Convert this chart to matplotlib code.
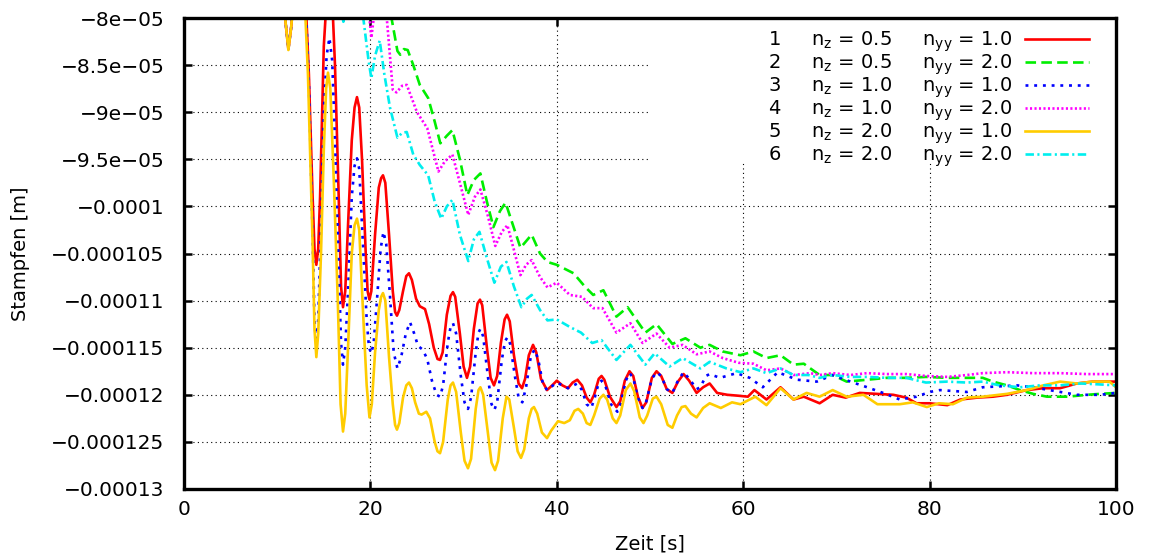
import matplotlib
matplotlib.use("Agg")
import matplotlib.pyplot as plt
from matplotlib.patches import Rectangle
from matplotlib.ticker import FuncFormatter, MultipleLocator

SCALE = 1e-5  # values below are in units of 1e-5 m

T1 = [10.5, 10.9, 11.2, 11.5, 11.9, 12.4, 13.0, 13.4, 13.8, 14.0, 14.2, 14.4, 14.6, 15.0, 15.3, 15.6, 15.9,
      16.2, 16.6, 16.85, 17.06, 17.3, 17.6, 18.0, 18.3, 18.56, 18.8, 19.1, 19.5, 19.7, 19.9, 20.1, 20.5,
      20.9, 21.15, 21.35, 21.6, 22.0, 22.4, 22.65, 22.85, 23.1, 23.5, 23.85, 24.14, 24.45, 24.9, 25.3, 25.86,
      26.3, 26.8, 27.2, 27.47, 27.75, 28.2, 28.6, 28.86, 29.1, 29.6, 30.0, 30.36, 30.7, 31.1, 31.5, 31.76,
      32.0, 32.5, 32.9, 33.26, 33.6, 34.0, 34.4, 34.66, 34.95, 35.4, 35.9, 36.27, 36.6, 37.0, 37.45, 37.8,
      38.3, 38.95, 39.5, 40.0, 40.6, 41.2, 41.7, 42.2, 42.7, 43.2, 43.6, 44.0, 44.5, 44.8, 45.1, 45.7,
      46.4, 46.8, 47.3, 47.8, 48.2, 48.7, 49.2, 49.6, 50.2, 50.7, 51.2, 51.8, 52.4, 53.0, 53.6, 54.2,
      55.0, 55.7, 56.4, 57.2, 58.3, 59.5, 60.5, 61.2, 62.5, 64.0, 65.4, 66.5, 68.2, 69.6, 71.0, 72.5,
      74.4, 76.1, 77.5, 78.6, 80.0, 81.9, 83.3, 85.1, 86.8, 88.3, 90.4, 92.2, 94.0, 95.8, 97.5, 100.0]
V1 = [-7.5, -8.05, -8.33, -8.1, -7.6, -7.4, -7.7, -8.6, -9.9, -10.45, -10.62, -10.45, -9.9, -8.3, -7.8, -7.6, -7.8,
      -8.5, -9.9, -10.85, -11.07, -10.9, -10.2, -9.3, -8.95, -8.84, -8.95, -9.5, -10.5, -10.9, -10.99, -10.9, -10.3,
      -9.8, -9.7, -9.67, -9.75, -10.3, -10.9, -11.12, -11.16, -11.1, -10.9, -10.74, -10.71, -10.78, -10.98, -11.06, -11.09,
      -11.25, -11.5, -11.62, -11.63, -11.55, -11.15, -10.95, -10.91, -10.96, -11.35, -11.7, -11.82, -11.7, -11.3, -11.03, -10.99,
      -11.05, -11.5, -11.82, -11.9, -11.8, -11.45, -11.2, -11.15, -11.22, -11.58, -11.88, -11.93, -11.83, -11.58, -11.47, -11.55,
      -11.83, -11.95, -11.9, -11.85, -11.9, -11.93, -11.87, -11.84, -11.9, -12.03, -12.08, -12.0, -11.83, -11.80, -11.84, -12.02,
      -12.13, -12.07, -11.85, -11.75, -11.8, -12.02, -12.14, -12.08, -11.82, -11.75, -11.8, -11.94, -11.98, -11.86, -11.78, -11.85,
      -11.98, -11.92, -11.88, -11.98, -12.0, -12.01, -12.02, -11.95, -12.05, -11.92, -12.05, -12.02, -12.09, -12.0, -12.03, -11.98,
      -11.99, -12.0, -12.03, -12.09, -12.09, -12.11, -12.05, -12.03, -12.02, -12.0, -11.95, -11.93, -11.93, -11.88, -11.86, -11.86]

T2 = [20.5, 21.8, 22.3, 22.9, 23.2, 23.6, 24.0, 24.6, 25.3, 26.2, 26.9, 27.5, 28.2, 28.8, 29.6, 30.4, 31.1,
      31.8, 32.5, 33.2, 33.9, 34.5, 35.3, 36.1, 36.7, 37.3, 38.2, 39.0, 40.0, 41.8, 43.0, 43.9, 45.0, 46.4,
      47.6, 49.5, 50.7, 52.4, 53.8, 55.4, 56.4, 57.8, 59.7, 61.1, 62.5, 64.0, 65.4, 66.5, 68.2, 69.6, 71.1,
      73.3, 75.4, 77.5, 79.6, 81.9, 84.0, 85.7, 86.8, 88.3, 89.7, 91.1, 92.6, 94.8, 96.9, 98.3, 100.0]
V2 = [-7.5, -7.7, -8.02, -8.35, -8.39, -8.33, -8.34, -8.5, -8.71, -8.85, -9.1, -9.33, -9.25, -9.19, -9.5, -9.88, -9.72,
      -9.65, -9.95, -10.22, -10.05, -9.96, -10.2, -10.44, -10.37, -10.30, -10.5, -10.59, -10.62, -10.71, -10.85, -10.94, -10.89, -11.17,
      -11.07, -11.34, -11.25, -11.46, -11.40, -11.50, -11.47, -11.54, -11.58, -11.54, -11.61, -11.58, -11.68, -11.67, -11.79, -11.79, -11.86,
      -11.84, -11.82, -11.82, -11.81, -11.82, -11.82, -11.82, -11.86, -11.9, -11.95, -11.99, -12.02, -12.02, -12.0, -11.99, -11.98]

T3 = [10.5, 10.9, 11.2, 11.5, 11.9, 12.4, 13.0, 13.4, 13.8, 14.0, 14.2, 14.4, 14.7, 15.0, 15.3, 15.6, 15.9,
      16.2, 16.6, 16.85, 17.06, 17.3, 17.6, 18.0, 18.3, 18.56, 18.8, 19.2, 19.6, 19.85, 20.1, 20.35, 20.7,
      21.1, 21.4, 21.7, 22.1, 22.5, 22.9, 23.3, 23.8, 24.25, 24.7, 25.1, 25.6, 26.1, 26.6, 27.1, 27.47,
      27.8, 28.3, 28.6, 28.86, 29.2, 29.7, 30.1, 30.47, 30.8, 31.3, 31.6, 31.8, 32.1, 32.6, 33.0, 33.3,
      33.6, 34.1, 34.45, 34.7, 35.0, 35.5, 35.9, 36.3, 36.7, 37.2, 37.6, 38.0, 38.5, 38.95, 40.0, 41.2,
      42.2, 42.7, 43.2, 43.7, 44.1, 44.5, 44.8, 45.2, 45.8, 46.5, 46.9, 47.4, 47.8, 48.2, 48.7, 49.2,
      49.6, 50.2, 50.7, 51.2, 51.8, 52.4, 53.0, 53.6, 54.3, 55.0, 55.4, 56.0, 56.4, 57.5, 59.3, 60.7,
      62.1, 63.7, 65.8, 67.9, 69.6, 71.5, 73.3, 75.0, 76.8, 78.6, 80.0, 81.1, 84.0, 85.7, 89.4, 91.1,
      94.0, 95.8, 98.3, 100.0]
V3 = [-7.5, -8.05, -8.33, -8.1, -7.6, -7.4, -7.7, -8.7, -10.3, -11.2, -11.5, -11.2, -10.2, -9.0, -8.4, -8.21, -8.45,
      -9.3, -10.6, -11.45, -11.68, -11.5, -10.9, -9.9, -9.57, -9.49, -9.6, -10.4, -11.2, -11.5, -11.56, -11.45, -11.0,
      -10.45, -10.27, -10.4, -10.95, -11.55, -11.72, -11.6, -11.35, -11.23, -11.35, -11.48, -11.52, -11.62, -11.85, -12.0, -12.02,
      -11.9, -11.45, -11.28, -11.24, -11.35, -11.8, -12.08, -12.15, -12.03, -11.55, -11.34, -11.30, -11.38, -11.8, -12.1, -12.16,
      -12.08, -11.63, -11.43, -11.39, -11.46, -11.8, -12.03, -12.08, -11.92, -11.6, -11.52, -11.62, -11.88, -11.95, -11.87, -11.93,
      -11.88, -11.95, -12.1, -12.14, -12.02, -11.87, -11.85, -11.9, -12.1, -12.18, -12.08, -11.85, -11.77, -11.82, -12.03, -12.14,
      -12.07, -11.83, -11.76, -11.8, -11.94, -11.98, -11.85, -11.76, -11.84, -11.94, -11.92, -11.8, -11.78, -11.82, -11.77, -11.82,
      -11.92, -11.76, -11.84, -11.86, -11.79, -11.86, -11.92, -11.98, -12.05, -12.02, -11.97, -11.95, -11.97, -11.92, -11.9, -11.92,
      -11.97, -12.0, -12.0, -11.98]

T4 = [19.6, 20.1, 20.6, 21.3, 21.8, 22.4, 22.8, 23.4, 23.9, 25.0, 26.1, 26.7, 27.3, 28.0, 28.8, 29.6, 30.5,
      31.2, 31.8, 32.6, 33.4, 34.1, 34.7, 35.5, 36.1, 36.7, 37.3, 38.2, 39.0, 40.0, 41.4, 42.7, 43.9, 44.9,
      46.4, 47.9, 49.2, 50.7, 52.1, 53.5, 55.0, 56.4, 57.8, 59.5, 61.1, 62.5, 64.0, 65.4, 67.2, 68.2, 69.6,
      71.5, 73.3, 75.4, 77.5, 79.6, 81.9, 84.0, 85.7, 88.3, 91.1, 94.0, 96.9, 100.0]
V4 = [-7.7, -8.21, -7.8, -7.7, -8.05, -8.76, -8.79, -8.72, -8.71, -9.0, -9.17, -9.4, -9.63, -9.52, -9.45, -9.75, -10.09,
      -9.9, -9.82, -10.1, -10.42, -10.27, -10.2, -10.5, -10.73, -10.62, -10.57, -10.75, -10.86, -10.81, -10.94, -10.96, -11.08, -11.08,
      -11.34, -11.24, -11.45, -11.35, -11.5, -11.47, -11.57, -11.54, -11.61, -11.66, -11.67, -11.74, -11.72, -11.79, -11.77, -11.79, -11.77,
      -11.79, -11.77, -11.78, -11.78, -11.80, -11.81, -11.79, -11.77, -11.76, -11.77, -11.77, -11.78, -11.78]

T5 = [10.5, 10.9, 11.2, 11.5, 11.9, 12.4, 12.9, 13.3, 13.8, 14.0, 14.2, 14.4, 14.7, 15.0, 15.25, 15.45, 15.7,
      16.1, 16.5, 16.8, 17.06, 17.3, 17.6, 18.0, 18.3, 18.56, 18.8, 19.2, 19.6, 19.9, 20.15, 20.5, 20.9,
      21.15, 21.35, 21.6, 22.0, 22.4, 22.65, 22.85, 23.1, 23.5, 23.85, 24.14, 24.45, 24.8, 25.2, 25.5, 26.0,
      26.4, 26.9, 27.2, 27.47, 27.8, 28.3, 28.6, 28.86, 29.2, 29.7, 30.1, 30.47, 30.8, 31.3, 31.6, 31.8,
      32.1, 32.6, 33.0, 33.37, 33.7, 34.2, 34.6, 34.9, 35.4, 35.8, 36.16, 36.5, 37.0, 37.3, 37.55, 37.9,
      38.4, 38.95, 39.4, 40.13, 40.8, 41.4, 41.9, 42.3, 42.8, 43.2, 43.6, 44.0, 44.6, 45.0, 45.4, 46.0,
      46.4, 46.8, 47.4, 47.9, 48.3, 48.9, 49.3, 49.7, 50.3, 50.7, 51.2, 51.9, 52.4, 52.9, 53.4, 53.8,
      54.4, 55.0, 55.7, 56.4, 57.6, 58.8, 59.7, 61.3, 62.5, 64.0, 65.4, 66.8, 68.2, 69.6, 71.1, 72.9,
      74.4, 76.8, 78.2, 79.7, 81.0, 82.5, 84.0, 85.7, 88.3, 90.4, 92.2, 94.0, 95.8, 97.5, 99.3, 100.0]
V5 = [-7.5, -8.05, -8.34, -8.1, -7.6, -7.4, -7.7, -8.6, -10.4, -11.3, -11.6, -11.35, -10.5, -9.4, -8.75, -8.58, -8.75,
      -9.8, -11.0, -12.1, -12.39, -12.2, -11.5, -10.5, -10.2, -10.13, -10.25, -11.1, -11.9, -12.24, -12.1, -11.55, -11.1,
      -10.96, -10.92, -11.0, -11.6, -12.1, -12.32, -12.37, -12.3, -12.03, -11.9, -11.87, -11.93, -12.08, -12.2, -12.21, -12.18,
      -12.25, -12.5, -12.6, -12.62, -12.5, -12.05, -11.9, -11.87, -11.97, -12.4, -12.7, -12.78, -12.68, -12.15, -11.95, -11.92,
      -12.0, -12.4, -12.72, -12.80, -12.7, -12.25, -12.02, -12.05, -12.35, -12.6, -12.67, -12.58, -12.25, -12.15, -12.13, -12.2,
      -12.4, -12.46, -12.38, -12.28, -12.3, -12.27, -12.17, -12.15, -12.2, -12.3, -12.32, -12.22, -12.04, -12.0, -12.05, -12.25,
      -12.3, -12.22, -11.95, -11.88, -11.96, -12.24, -12.3, -12.22, -12.04, -12.02, -12.1, -12.32, -12.35, -12.22, -12.13, -12.12,
      -12.2, -12.24, -12.14, -12.09, -12.14, -12.08, -12.1, -12.02, -12.11, -11.93, -12.05, -11.98, -12.02, -11.95, -12.02, -12.0,
      -12.1, -12.1, -12.08, -12.13, -12.09, -12.1, -12.03, -12.02, -11.99, -11.95, -11.9, -11.86, -11.88, -11.86, -11.86, -11.92]

T6 = [16.7, 17.1, 17.5, 18.8, 19.3, 19.8, 20.1, 20.5, 21.0, 21.5, 22.1, 22.9, 23.4, 23.9, 24.6, 25.3, 26.2,
      26.9, 27.6, 28.2, 28.8, 29.6, 30.5, 31.1, 31.7, 32.5, 33.3, 34.0, 34.6, 35.4, 36.2, 36.8, 37.3, 38.2,
      39.0, 40.0, 41.4, 42.6, 43.8, 44.8, 46.4, 47.9, 49.5, 50.5, 52.1, 53.5, 55.4, 56.4, 58.2, 59.7, 61.1,
      62.5, 64.0, 65.4, 67.0, 68.2, 69.6, 71.5, 73.3, 75.4, 77.5, 79.6, 81.9, 84.0, 85.7, 87.5, 89.7, 91.8,
      94.0, 96.2, 98.3, 100.0]
V6 = [-7.8, -8.04, -7.8, -7.7, -8.05, -8.45, -8.64, -8.4, -8.24, -8.6, -8.95, -9.27, -9.22, -9.21, -9.45, -9.56, -9.67,
      -9.95, -10.13, -10.0, -9.93, -10.3, -10.58, -10.35, -10.27, -10.55, -10.81, -10.64, -10.59, -10.85, -11.07, -10.98, -10.94, -11.1,
      -11.21, -11.20, -11.28, -11.34, -11.45, -11.42, -11.63, -11.47, -11.68, -11.56, -11.70, -11.61, -11.72, -11.65, -11.72, -11.76, -11.72,
      -11.77, -11.72, -11.79, -11.79, -11.82, -11.79, -11.81, -11.81, -11.82, -11.82, -11.87, -11.86, -11.87, -11.86, -11.9, -11.92, -11.9,
      -11.9, -11.88, -11.89, -11.9]

SERIES_ID = ["1", "2", "3", "4", "5", "6"]
NZ = ["0.5", "0.5", "1.0", "1.0", "2.0", "2.0"]
NYY = ["1.0", "2.0", "1.0", "2.0", "1.0", "2.0"]

COLORS = ["#ff0000", "#00ee00", "#0000ff", "#ff00ff", "#ffcc00", "#00eeee"]
DASHES = [None, (4, 2), (1.1, 2.2), (0.8, 0.9), None, (3.2, 1.3, 0.8, 1.3)]

plt.rcParams["font.family"] = ["DejaVu Sans"]
plt.rcParams["mathtext.fontset"] = "dejavusans"
plt.rcParams["mathtext.default"] = "regular"

fig = plt.figure(figsize=(11.5, 5.59), dpi=100)
fig.patch.set_facecolor("white")
ax = fig.add_axes([184 / 1150, 1 - 489 / 559, 932 / 1150, 471 / 559])

series = [(T1, V1), (T2, V2), (T3, V3), (T4, V4), (T5, V5), (T6, V6)]
for i, (t, v) in enumerate(series):
    label = f"{SERIES_ID[i]}     n$_z$ = {NZ[i]}     n$_{{yy}}$ = {NYY[i]}"
    line, = ax.plot(t, [x * SCALE for x in v], color=COLORS[i], lw=1.9, label=label,
                    solid_joinstyle="round", zorder=2 + i * 0.01)
    if DASHES[i] is not None:
        line.set_dashes(DASHES[i])

ax.set_xlim(0, 100)
ax.set_ylim(-13 * SCALE, -8 * SCALE)
ax.xaxis.set_major_locator(MultipleLocator(20))
ax.yaxis.set_major_locator(MultipleLocator(0.5 * SCALE))
ax.yaxis.set_major_formatter(FuncFormatter(lambda y, _: f"{y:g}".replace("-", "\u2212")))
ax.xaxis.set_major_formatter(FuncFormatter(lambda x, _: f"{x:g}"))

ax.set_axisbelow(True)
ax.grid(True, color="black", lw=0.8, linestyle=(0, (1, 3)))
ax.add_patch(Rectangle((0.5, 0.692), 0.5, 0.308, transform=ax.transAxes,
                       fc="white", ec="none", zorder=1))

for s in ax.spines.values():
    s.set_linewidth(2.4)
ax.tick_params(direction="in", length=6, width=1.8, top=True, right=True,
               labelsize=14.5, pad=8)
ax.tick_params(axis="y", pad=14)

ax.set_xlabel("Zeit [s]", fontsize=14, labelpad=11)
ax.set_ylabel("Stampfen [m]", fontsize=14, labelpad=15)

ax.legend(loc="upper right", bbox_to_anchor=(0.971, 0.975), frameon=False,
          markerfirst=False, fontsize=14, handlelength=3.3, handletextpad=0.65,
          labelspacing=-0.08, borderpad=0, borderaxespad=0)

fig.savefig("out.png", dpi=100, facecolor="white")
